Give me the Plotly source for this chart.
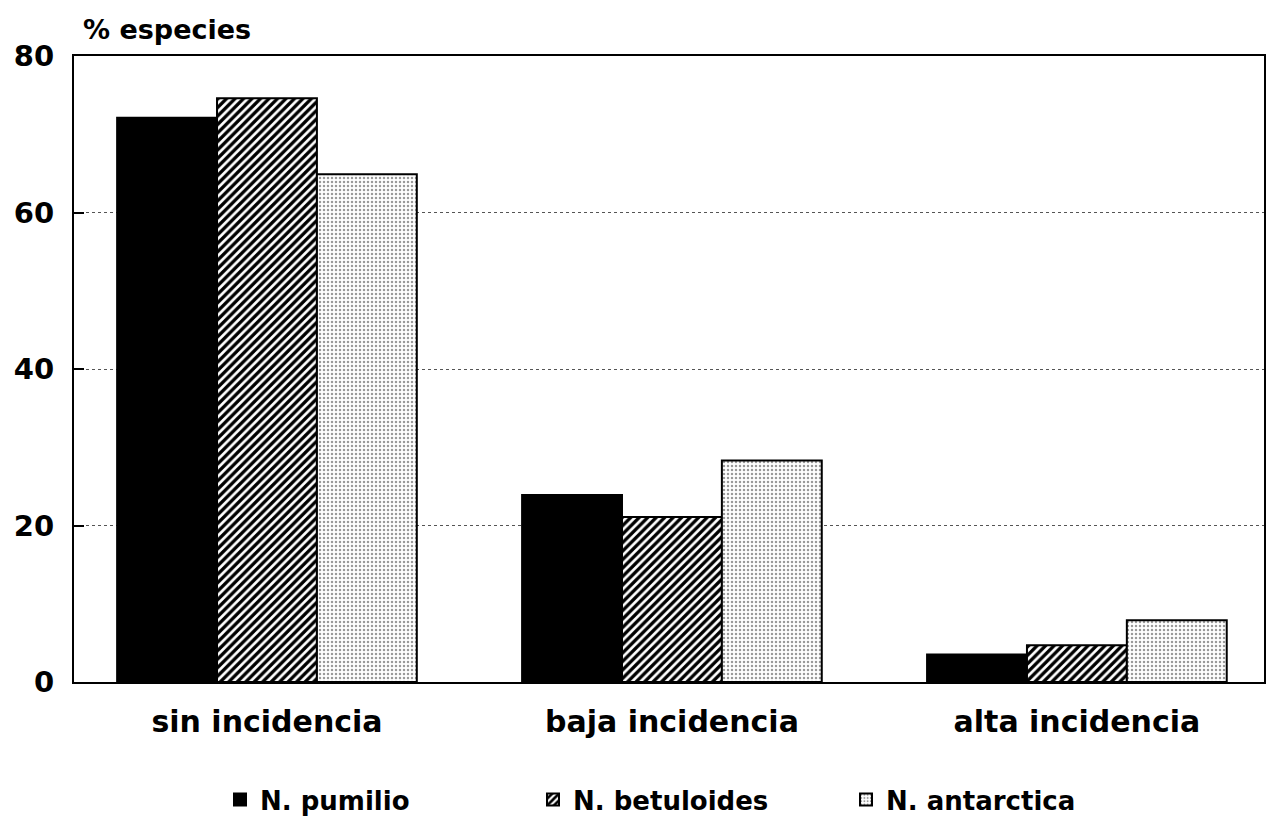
import plotly.graph_objects as go

categories = ["sin incidencia", "baja incidencia", "alta incidencia"]
series_names = ["N. pumilio", "N. betuloides", "N. antarctica"]
pumilio = [72.1, 23.9, 3.5]
betuloides = [74.6, 21.1, 4.7]
antarctica = [64.9, 28.3, 7.9]
y_ticks = [0, 20, 40, 60, 80]

FONT = "DejaVu Sans"
fig = go.Figure()
fig.add_trace(go.Bar(
    name=series_names[0], x=categories, y=pumilio,
    marker=dict(color="black", line=dict(color="black", width=2)),
))
fig.add_trace(go.Bar(
    name=series_names[1], x=categories, y=betuloides,
    marker=dict(color="white", line=dict(color="black", width=2),
                pattern=dict(shape="/", size=6, solidity=0.55,
                             fgcolor="black", bgcolor="white", fgopacity=1)),
))
fig.add_trace(go.Bar(
    name=series_names[2], x=categories, y=antarctica,
    marker=dict(color="white", line=dict(color="black", width=2),
                pattern=dict(shape=".", size=4, solidity=0.3,
                             fgcolor="#333333", bgcolor="white")),
))

fig.update_layout(
    width=1267, height=821,
    margin=dict(l=74, r=3, t=56, b=139, autoexpand=False),
    paper_bgcolor="white", plot_bgcolor="white",
    barmode="group", bargap=0.26, bargroupgap=0,
    font=dict(family=FONT, color="black", size=26),
    showlegend=True,
    legend=dict(orientation="h", x=0.1227, xanchor="left", y=-0.188, yanchor="middle",
                font=dict(family=FONT, size=26, color="black", weight="bold"),
                entrywidth=268, entrywidthmode="pixels", itemsizing="constant"),
    xaxis=dict(type="category", range=[-0.4765, 2.462], automargin=False,
               showline=True, linecolor="black", linewidth=2, mirror=True,
               ticks="", showgrid=False, ticklabelstandoff=12,
               tickfont=dict(family=FONT, size=30, color="black", weight="bold")),
    yaxis=dict(range=[0, 80], tickvals=y_ticks, automargin=False,
               showline=True, linecolor="black", linewidth=2, mirror=True,
               ticks="inside", ticklen=10, tickwidth=2, tickcolor="black",
               showgrid=True, gridcolor="#555555", gridwidth=1, griddash="dot",
               zeroline=False, ticklabelstandoff=12,
               tickfont=dict(family=FONT, size=29, color="black", weight="bold")),
    annotations=[dict(text="% especies", xref="paper", yref="paper",
                      x=0.006, y=1.042, xanchor="left", yanchor="middle",
                      showarrow=False,
                      font=dict(family=FONT, size=27, color="black", weight="bold"))],
)

fig.write_html("out.html", config={"displayModeBar": False},
               post_script="document.body.style.margin='0px';document.body.style.overflow='hidden';")
